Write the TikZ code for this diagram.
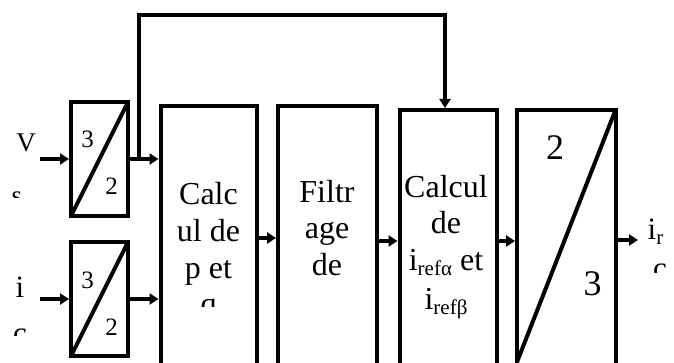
\documentclass[tikz,border=0pt]{standalone}
\usepackage{fontspec}
\setmainfont{Liberation Serif}
\usetikzlibrary{arrows.meta}
\newcommand\mysub[1]{\raisebox{-5pt}{\fontsize{21}{21}\selectfont #1}}
\begin{document}
\begin{tikzpicture}[x=1pt,y=-1pt,
  blk/.style={draw, line width=4pt, inner sep=0pt, outer sep=0pt},
  diag/.style={line width=4pt},
  conn/.style={line width=4pt, shorten >=2pt, -{Triangle[length=9pt,width=11pt]}},
  lbl/.style={inner sep=0pt, anchor=base, font=\fontsize{32}{32}\selectfont},
  side/.style={inner sep=0pt, anchor=base, font=\fontsize{31}{31}\selectfont},
  num/.style={inner sep=0pt, anchor=base, font=\fontsize{25}{25}\selectfont},
  bignum/.style={inner sep=0pt, anchor=base, font=\fontsize{36}{36}\selectfont},
]
\clip (0,0) rectangle (674,363);
\fill[white] (0,0) rectangle (674,363);

% small 3/2 boxes
\node[blk, minimum width=57pt, minimum height=114pt] (c1) at (99.5,159) {};
\node[blk, minimum width=57pt, minimum height=114pt] (c2) at (99.5,299) {};
\draw[diag] (c1.south west) -- (c1.north east);
\draw[diag] (c2.south west) -- (c2.north east);
\node[num] (c1a) at (87.5,148) {3};
\node[num] (c1b) at (111.5,195) {2};
\node[num] (c2a) at (87.5,288) {3};
\node[num] (c2b) at (111.5,335) {2};

% tall blocks
\node[blk, minimum width=96.5pt, minimum height=300pt] (pq) at (208.75,256.5) {};
\node[blk, minimum width=98.5pt, minimum height=300pt] (filt) at (327.25,256.5) {};
\node[blk, minimum width=97.5pt, minimum height=300pt] (cref) at (448.25,260) {};
\node[blk, minimum width=98.5pt, minimum height=300pt] (inv) at (566.25,260) {};
\coordinate (invd) at (517,362);
\draw[diag] (invd) -- (inv.north east);
\node[bignum] (inv2) at (555,160) {2};
\node[bignum] (inv3) at (592.5,295) {3};

% block texts
\node[lbl] (pq1) at (208.5,205) {Calc};
\node[lbl] (pq2) at (208.5,241.5) {ul de};
\node[lbl] (pq3) at (208.5,278) {p et};
\begin{scope}
  \clip (165,280) rectangle (252,306);
  \node[lbl] (pq4) at (208.5,314.5) {q};
\end{scope}
\node[lbl] (f1) at (327,203) {Filtr};
\node[lbl] (f2) at (327,239) {age};
\node[lbl] (f3) at (327,275) {de};
\node[lbl] (r1) at (446,198) {Calcul};
\node[lbl] (r2) at (446,234) {de};
\node[lbl] (r3) at (446,270) {i\mysub{refα} et};
\node[lbl] (r4) at (446,309) {i\mysub{refβ}};

% input labels
\node[side, font=\fontsize{27}{27}\selectfont] (vl) at (26,152) {V};
\begin{scope}
  \clip (0,170) rectangle (60,198);
  \node[side, font=\fontsize{27}{27}\selectfont] (vs) at (17,205) {s};
\end{scope}
\node[side] (il) at (20,297) {i};
\begin{scope}
  \clip (0,310) rectangle (60,335);
  \node[side] (ic) at (20,343.5) {c};
\end{scope}
\node[side, anchor=base west] (ir) at (647.5,240) {i\mysub{r}};
\begin{scope}
  \clip (640,255) rectangle (674,272);
  \node[side] (irc) at (660,278.5) {c};
\end{scope}

% connectors
\coordinate (vin) at (40,159);
\coordinate (iin) at (40,299);
\draw[conn] (vin) -- (c1.west);
\draw[conn] (iin) -- (c2.west);
\draw[conn] (c1.east) -- (c1.east -| pq.west);
\draw[conn] (c2.east) -- (c2.east -| pq.west);
\draw[conn] (pq.east |- 0,238) -- (filt.west |- 0,238);
\draw[conn] (filt.east |- 0,241) -- (cref.west |- 0,241);
\draw[conn] (cref.east |- 0,241) -- (inv.west |- 0,241);
\coordinate (out) at (638,240);
\draw[conn, shorten >=0pt] (inv.east |- out) -- (out);
\coordinate (j) at (139,159);
\coordinate (top) at (445,15);
\draw[conn] (j) |- (top) -- (top |- cref.north);
\end{tikzpicture}
\end{document}
